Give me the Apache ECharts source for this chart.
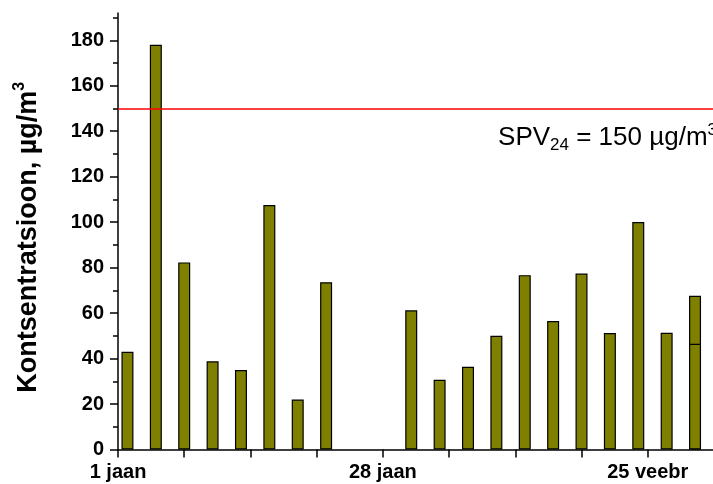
<!DOCTYPE html>
<html>
<head>
<meta charset="utf-8">
<script src="https://cdn.jsdelivr.net/npm/echarts@6/dist/echarts.min.js"></script>
<style>
  html, body { margin: 0; padding: 0; background: #fff; }
  #chart { width: 713px; height: 484px; }
</style>
</head>
<body>
<div id="chart"></div>
<script>
// sampling days, counted from 1 jaan (every third day)
const days = [1, 4, 7, 10, 13, 16, 19, 22, 25, 28, 31, 34, 37, 40, 43, 46, 49, 52, 55, 58, 61];
const values = [43, 178, 82.3, 38.8, 35, 107.5, 22, 73.6, null, null, 61.2, 30.7, 36.4, 50, 76.7, 56.5, 77.4, 51.2, 100.1, 51.3, 67.6];
// second (overlapping) value on the last day
const extraDays = [61];
const extraValues = [46.5];

const limitValue = 150;
const xTickDays = [0, 7, 14, 21, 28, 35, 42, 49, 56];
const xLabelDays = [0, 28, 56];
const xLabelTexts = ['1 jaan', '28 jaan', '25 veebr'];
const yMajorTicks = [0, 20, 40, 60, 80, 100, 120, 140, 160, 180];
const yMinorTicks = [10, 30, 50, 70, 90, 110, 130, 150, 170, 190];

const font = 'Liberation Sans, Arial, sans-serif';
const barStyle = { color: '#808000', borderColor: '#000', borderWidth: 1.2 };

const chart = echarts.init(document.getElementById('chart'));

chart.setOption({
  animation: false,
  grid: { left: 118, right: -4, top: 13, bottom: 34.5 },
  xAxis: {
    type: 'value',
    min: 0,
    max: 62.9,
    interval: 7,
    splitLine: { show: false },
    axisLine: { lineStyle: { color: '#000', width: 1.5 } },
    axisTick: { customValues: xTickDays, length: 8, lineStyle: { color: '#000', width: 1.5 } },
    axisLabel: {
      customValues: xLabelDays,
      margin: 13,
      color: '#000',
      fontFamily: font,
      fontWeight: 'bold',
      fontSize: 20,
      formatter: (v) => xLabelTexts[xLabelDays.indexOf(v)] || ''
    }
  },
  yAxis: [
    {
      type: 'value',
      min: 0,
      max: 192,
      interval: 20,
      splitLine: { show: false },
      axisLine: { show: true, lineStyle: { color: '#000', width: 1.5 } },
      axisTick: { customValues: yMajorTicks, length: 8, lineStyle: { color: '#000', width: 1.5 } },
      axisLabel: {
        customValues: yMajorTicks,
        margin: 14,
        color: '#000',
        fontFamily: font,
        fontWeight: 'bold',
        fontSize: 20
      },
      name: 'Kontsentratsioon, µg/m{sup|3}',
      nameLocation: 'middle',
      nameRotate: 90,
      nameGap: 72,
      nameTextStyle: {
        color: '#000',
        fontFamily: font,
        fontWeight: 'bold',
        fontSize: 27,
        lineHeight: 34,
        padding: [0, 12, 0, 0],
        rich: {
          sup: { fontFamily: font, fontWeight: 'bold', fontSize: 16, verticalAlign: 'top', lineHeight: 34, color: '#000' }
        }
      }
    },
    {
      // minor ticks only
      type: 'value',
      min: 0,
      max: 192,
      interval: 20,
      position: 'left',
      splitLine: { show: false },
      axisLine: { show: false },
      axisTick: { customValues: yMinorTicks, length: 5, lineStyle: { color: '#000', width: 1.5 } },
      axisLabel: { show: false }
    }
  ],
  series: [
    {
      type: 'bar',
      data: days.map((d, i) => [d, values[i]]),
      barWidth: 12,
      barGap: '-100%',
      itemStyle: barStyle,
      markLine: {
        silent: true,
        symbol: 'none',
        lineStyle: { color: '#ff0000', width: 1.5, type: 'solid' },
        data: [{ yAxis: limitValue }],
        label: {
          position: 'insideEndBottom',
          distance: [-4, 13],
          color: '#000',
          fontFamily: font,
          fontSize: 26,
          lineHeight: 32,
          formatter: 'SPV{sub|24} = ' + limitValue + ' µg/m{sup|3}',
          rich: {
            sub: { fontFamily: font, fontSize: 17, verticalAlign: 'bottom', lineHeight: 32, color: '#000' },
            sup: { fontFamily: font, fontSize: 17, verticalAlign: 'top', lineHeight: 32, color: '#000' }
          }
        }
      }
    },
    {
      type: 'bar',
      data: extraDays.map((d, i) => [d, extraValues[i]]),
      barWidth: 12,
      barGap: '-100%',
      itemStyle: barStyle
    }
  ]
});
</script>
</body>
</html>
